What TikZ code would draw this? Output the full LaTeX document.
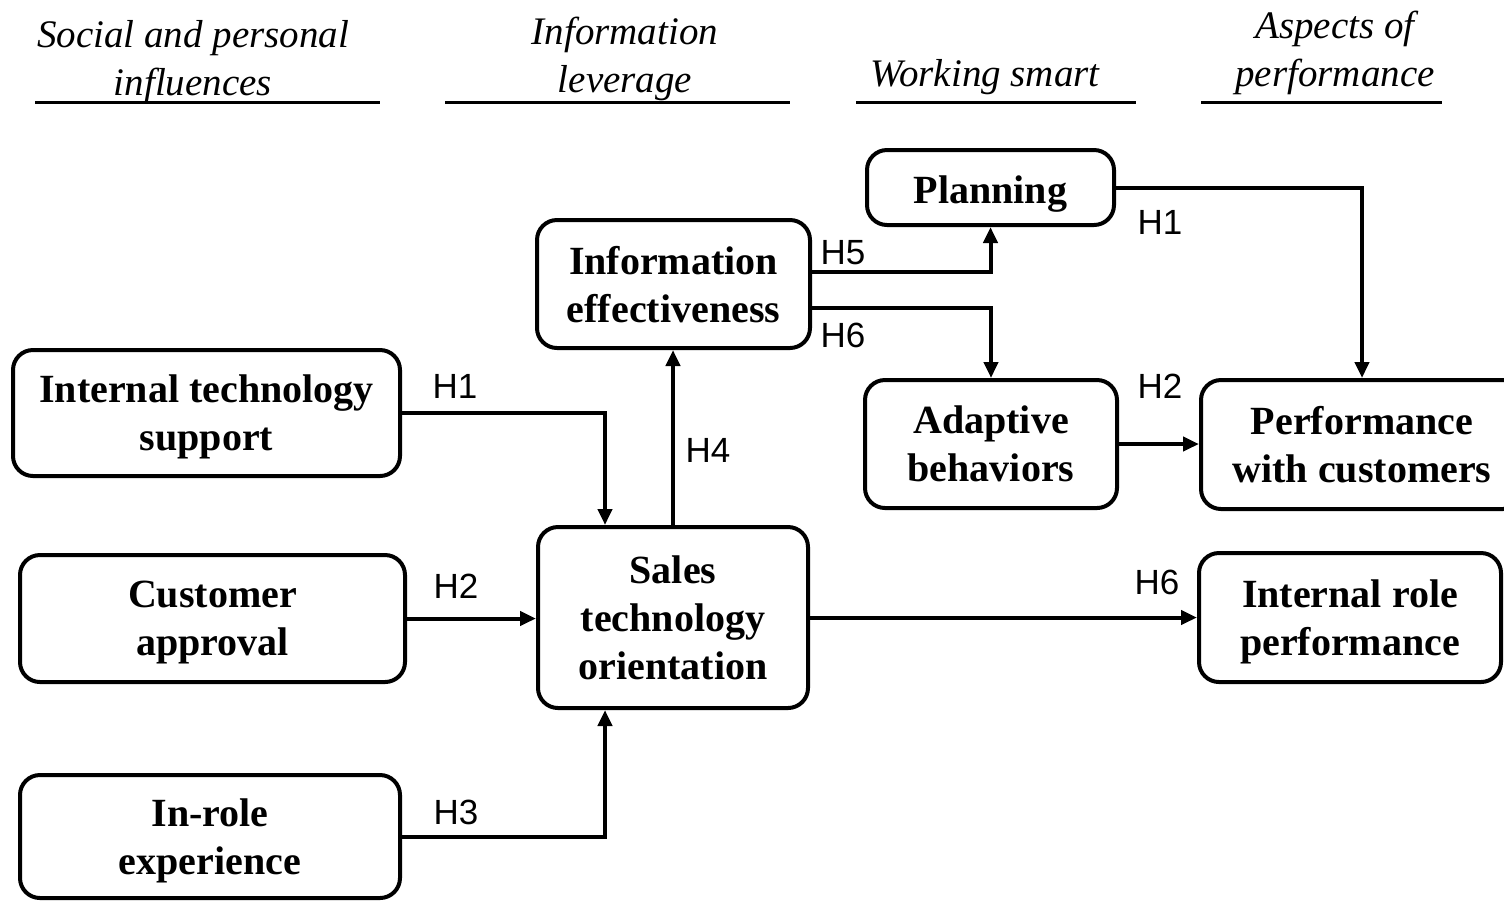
\documentclass[tikz,border=0pt]{standalone}
\usepackage{fontspec}
\setmainfont{Liberation Serif}
\newfontfamily\labfont{Liberation Sans}
\usetikzlibrary{arrows.meta}
\begin{document}
\begin{tikzpicture}[x=0.5pt,y=-0.5pt,
  box/.style={draw, rounded corners=10pt, line width=2pt, align=center, inner sep=0pt,
    font=\fontsize{20pt}{24pt}\selectfont\bfseries, text depth=0pt,
    execute at begin node={\rule{0pt}{15.5pt}}},
  hdr/.style={align=center, inner sep=0pt, font=\fontsize{19.5pt}{24pt}\selectfont\itshape},
  uline/.style={line width=1.5pt},
  arr/.style={line width=2pt, -{Triangle[length=8pt,width=7pt]}},
  hlab/.style={inner sep=0pt, font=\fontsize{17.5pt}{19pt}\selectfont\labfont}]
\useasboundingbox (0,0) rectangle (1504,902);

% headers
\node[hdr] (h1) at (193,62) {Social and personal\\influences};
\node[hdr] (h2) at (625,59) {Information\\leverage};
\node[hdr] (h3) at (985,77) {Working smart};
\node[hdr] (h4) at (1335,53) {Aspects of\\performance};
\draw[uline] (35,102) -- (380,102);
\draw[uline] (445,102) -- (790,102);
\draw[uline] (856,102) -- (1136,102);
\draw[uline] (1201,102) -- (1442,102);

% boxes
\node[box, minimum width=123.5pt, minimum height=37.5pt] (plan) at (990.5,187.5) {Planning};
\node[box, minimum width=136.5pt, minimum height=64pt] (ie) at (673.5,284) {Information\\effectiveness};
\node[box, minimum width=193.5pt, minimum height=63pt] (its) at (206.5,413) {Internal technology\\support};
\node[box, minimum width=126pt, minimum height=64pt] (ab) at (991,444) {Adaptive\\behaviors};
\node[box, minimum width=161pt, minimum height=64.5pt] (pwc) at (1362,444.5) {Performance\\with customers};
\node[box, minimum width=192.5pt, minimum height=63.5pt] (ca) at (212.5,618.5) {Customer\\approval};
\node[box, minimum width=135pt, minimum height=90.5pt] (sto) at (673,617.5) {Sales\\technology\\orientation};
\node[box, minimum width=151pt, minimum height=64.5pt] (irp) at (1350,617.5) {Internal role\\performance};
\node[box, minimum width=190pt, minimum height=61.5pt] (ire) at (210,836.5) {In-role\\experience};

% connectors
\draw[arr] (its.east) -| ([xshift=-34pt]sto.north);
\draw[arr] (ca.east) -- (ca.east -| sto.west);
\draw[arr] (ire.east) -| ([xshift=-34pt]sto.south);
\draw[arr] (sto.north) -- (sto.north |- ie.south);
\draw[arr] ([yshift=6pt]ie.east) -| (plan.south);
\draw[arr] ([yshift=-12pt]ie.east) -| (ab.north);
\draw[arr] (plan.east) -| (pwc.north);
\draw[arr] (ab.east) -- (ab.east -| pwc.west);
\draw[arr] (sto.east) -- (sto.east -| irp.west);

% labels
\node[hlab] (l1) at (455,386) {H1};
\node[hlab] (l2) at (456,586) {H2};
\node[hlab] (l3) at (456,812) {H3};
\node[hlab] (l4) at (708,450) {H4};
\node[hlab] (l5) at (843,253) {H5};
\node[hlab] (l6) at (843,335) {H6};
\node[hlab] (l7) at (1160,222) {H1};
\node[hlab] (l8) at (1160,386) {H2};
\node[hlab] (l9) at (1157,582) {H6};
\end{tikzpicture}
\end{document}
